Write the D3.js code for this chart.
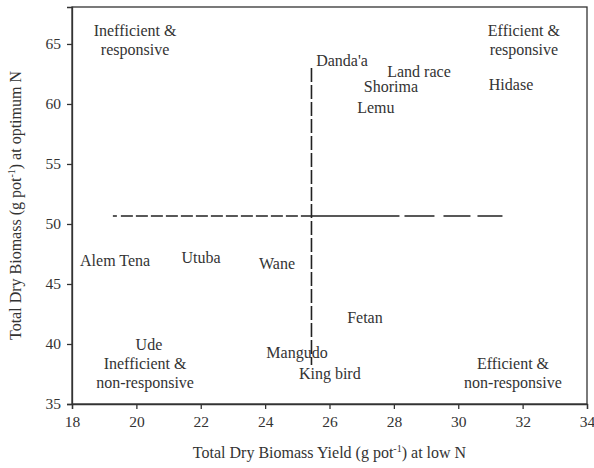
<!DOCTYPE html>
<html>
<head>
<meta charset="utf-8">
<script src="https://cdn.jsdelivr.net/npm/d3@7"></script>
<style>
  body { margin: 0; background: #fff; }
  text { font-family: "Liberation Serif", "DejaVu Serif", serif; fill: #333; }
</style>
</head>
<body>
<div id="chart"></div>
<script>
// genotype labels placed at (low N yield, optimum N biomass)
const genotypes = ["Danda'a", "Land race", "Shorima", "Lemu", "Hidase", "Alem Tena", "Utuba", "Wane", "Ude", "Mangudo", "King bird", "Fetan"];
const lowN = [26.39, 28.78, 27.91, 27.44, 31.64, 19.34, 22.01, 24.37, 20.39, 24.99, 26.01, 27.10];
const optN = [63.67, 62.75, 61.45, 59.75, 61.67, 47.0, 47.25, 46.75, 40.0, 39.33, 37.58, 42.25];

// quadrant annotations
const quadLabels = [["Inefficient &", "responsive"], ["Efficient &", "responsive"], ["Inefficient &", "non-responsive"], ["Efficient &", "non-responsive"]];
const quadX = [19.96, 32.04, 20.27, 31.7];
const quadY = [66.1, 66.15, 38.4, 38.4];

// mean lines
const meanX = 25.44;
const meanY = 50.67;
const hRange = [19.27, 31.39];
const vRange = [38.25, 63.0];

const xTicks = [18, 20, 22, 24, 26, 28, 30, 32, 34];
const yTicks = [35, 40, 45, 50, 55, 60, 65];

const width = 594, height = 468;
const margin = { top: 7, right: 7, bottom: 64, left: 72 };

const svg = d3.select("#chart").append("svg")
  .attr("width", width)
  .attr("height", height);

const x = d3.scaleLinear().domain([18, 34]).range([margin.left, width - margin.right]);
const y = d3.scaleLinear().domain([35, 68.08]).range([height - margin.bottom, margin.top]);

// frame
svg.append("rect")
  .attr("x", x(18)).attr("y", y(68.08))
  .attr("width", x(34) - x(18)).attr("height", y(35) - y(68.08))
  .attr("fill", "none").attr("stroke", "#333").attr("stroke-width", 1.3);

const xAxis = svg.append("g")
  .attr("transform", `translate(0,${y(35)})`)
  .call(d3.axisBottom(x).tickValues(xTicks).tickSize(5).tickPadding(7));
const yAxis = svg.append("g")
  .attr("transform", `translate(${x(18)},0)`)
  .call(d3.axisLeft(y).tickValues(yTicks).tickSize(5).tickPadding(6));

[xAxis, yAxis].forEach(g => {
  g.select(".domain").attr("stroke", "#333").attr("stroke-width", 1.3);
  g.selectAll(".tick line").attr("stroke", "#333").attr("stroke-width", 1.3);
  g.selectAll(".tick text").attr("font-size", 15.5).attr("font-family", "Liberation Serif").attr("fill", "#333");
});

// dashed mean lines
const lines = svg.append("g").attr("stroke", "#222").attr("stroke-width", 1.6).attr("fill", "none");
lines.append("line")
  .attr("x1", x(hRange[0])).attr("x2", x(meanX))
  .attr("y1", y(meanY)).attr("y2", y(meanY))
  .attr("stroke-dasharray", "4,4,12,3,12,3,12,3,12,3,12,3,12,3,12,3,12,3,12,3,12,3,12,3,12,3,12,3,12,3,12,3");
lines.append("line")
  .attr("x1", x(meanX)).attr("x2", x(hRange[1]))
  .attr("y1", y(meanY)).attr("y2", y(meanY))
  .attr("stroke-dasharray", "88,5,30,9,27,7,25");
lines.append("line")
  .attr("x1", x(meanX)).attr("x2", x(meanX))
  .attr("y1", y(vRange[1])).attr("y2", y(vRange[0]))
  .attr("stroke-dasharray", "14,3");

// genotype labels
svg.append("g").selectAll("text")
  .data(genotypes)
  .enter()
  .append("text")
  .attr("x", (d, i) => x(lowN[i]))
  .attr("y", (d, i) => y(optN[i]))
  .attr("dy", "0.35em")
  .attr("text-anchor", "middle")
  .attr("font-size", 16)
  .text(d => d);

// quadrant labels
const q = svg.append("g").selectAll("text")
  .data(quadLabels)
  .enter()
  .append("text")
  .attr("x", (d, i) => x(quadX[i]))
  .attr("y", (d, i) => y(quadY[i]))
  .attr("text-anchor", "middle")
  .attr("font-size", 16);
q.append("tspan").attr("dy", "0.35em").text(d => d[0]);
q.append("tspan").attr("x", (d, i) => x(quadX[i])).attr("dy", "1.18em").text(d => d[1]);

// axis titles
const xt = svg.append("text")
  .attr("x", (x(18) + x(34)) / 2)
  .attr("y", 458)
  .attr("text-anchor", "middle")
  .attr("font-size", 16);
xt.append("tspan").text("Total Dry Biomass Yield (g pot");
xt.append("tspan").attr("dy", -6).attr("font-size", 10).text("-1");
xt.append("tspan").attr("dy", 6).text(") at low N");

const yt = svg.append("text")
  .attr("transform", `translate(21,${(y(35) + y(68.08)) / 2}) rotate(-90)`)
  .attr("text-anchor", "middle")
  .attr("font-size", 16);
yt.append("tspan").text("Total Dry Biomass (g pot");
yt.append("tspan").attr("dy", -6).attr("font-size", 10).text("-1");
yt.append("tspan").attr("dy", 6).text(") at optimum N");
</script>
</body>
</html>
